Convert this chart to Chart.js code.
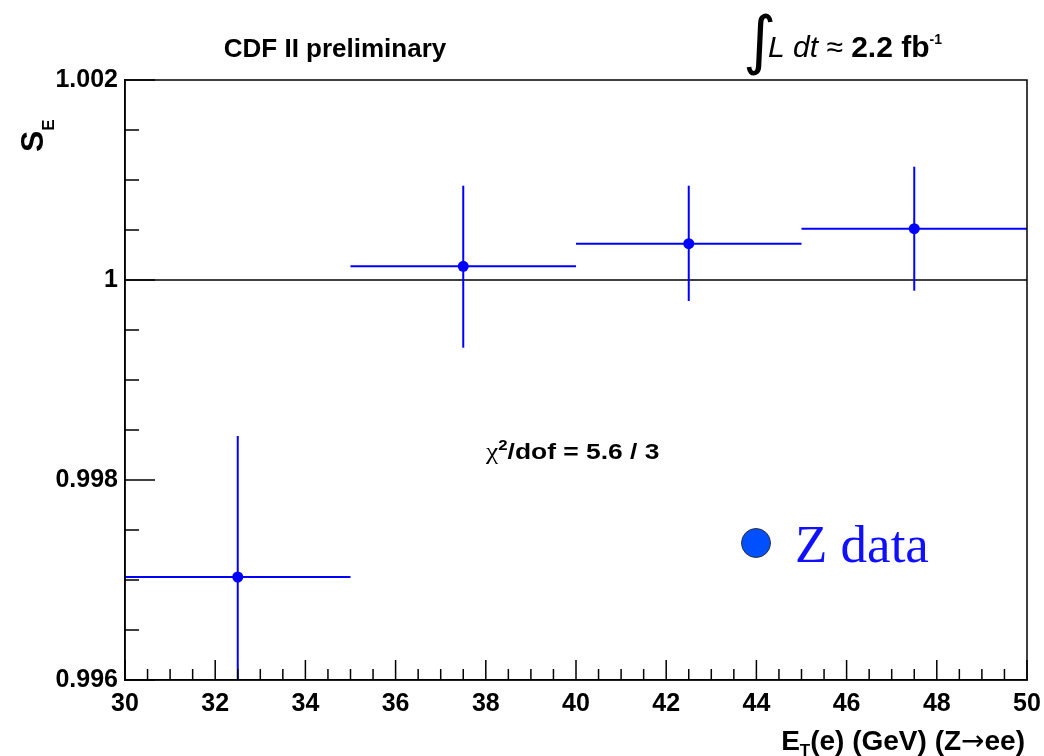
<!DOCTYPE html>
<html>
<head>
<meta charset="utf-8">
<script src="https://cdn.jsdelivr.net/npm/chart.js@4.4.1/dist/chart.umd.min.js"></script>
<style>
  html, body { margin: 0; padding: 0; background: #fff; }
  #wrap { width: 1044px; height: 756px; }
</style>
</head>
<body>
<div id="wrap"><canvas id="chart" width="1044" height="756"></canvas></div>
<script>
// ---------- Data ----------
const binLow = [30, 35, 40, 45];
const binHigh = [35, 40, 45, 50];
const binCenter = [32.5, 37.5, 42.5, 47.5];
const scaleE = [0.99703, 1.000137, 1.000363, 1.000513];
const errUp = [0.00141, 0.000806, 0.00058, 0.00062];
const errDown = [0.00141, 0.000814, 0.000573, 0.00062];

const xRange = [30, 50];
const yRange = [0.996, 1.002];
const refValue = 1;

const SANS = "'Liberation Sans', Arial, Helvetica, sans-serif";
const BLUE = "#0000ff";

// ---------- Datasets ----------
const datasets = [];

datasets.push({
  label: "Z data",
  data: binCenter.map((x, i) => ({ x, y: scaleE[i] })),
  showLine: false,
  pointRadius: 5.5,
  pointHoverRadius: 5.5,
  pointBackgroundColor: BLUE,
  pointBorderColor: BLUE,
  pointBorderWidth: 0
});

binCenter.forEach((x, i) => {
  // horizontal bar (bin width)
  datasets.push({
    data: [{ x: binLow[i], y: scaleE[i] }, { x: binHigh[i], y: scaleE[i] }],
    showLine: true,
    borderColor: BLUE,
    borderWidth: 2,
    pointRadius: 0
  });
  // vertical error bar
  datasets.push({
    data: [{ x, y: scaleE[i] - errDown[i] }, { x, y: scaleE[i] + errUp[i] }],
    showLine: true,
    borderColor: BLUE,
    borderWidth: 2,
    pointRadius: 0
  });
});

datasets.push({
  data: [{ x: xRange[0], y: refValue }, { x: xRange[1], y: refValue }],
  showLine: true,
  borderColor: "#000",
  borderWidth: 1.5,
  pointRadius: 0
});

// ---------- Helpers ----------
function isMultiple(v, step) {
  const r = v / step;
  return Math.abs(r - Math.round(r)) < 1e-6;
}

// draw a run of text pieces, each with its own font and vertical shift
function drawRun(ctx, pieces, x, y, align) {
  let total = 0;
  pieces.forEach((p) => {
    ctx.font = p.font;
    p.w = ctx.measureText(p.t).width;
    total += p.w + (p.gap || 0);
  });
  let cx = align === "right" ? x - total : align === "center" ? x - total / 2 : x;
  pieces.forEach((p) => {
    ctx.font = p.font;
    ctx.fillStyle = p.color || "#000";
    ctx.fillText(p.t, cx, y + (p.dy || 0));
    cx += p.w + (p.gap || 0);
  });
}

// ---------- Overlay plugin: frame, inward ticks, labels ----------
const overlay = {
  id: "overlay",
  afterDraw(chart) {
    const { ctx, chartArea: a } = chart;
    const xs = chart.scales.x;
    const ys = chart.scales.y;
    ctx.save();

    ctx.strokeStyle = "#000";
    ctx.lineWidth = 1.5;
    ctx.strokeRect(a.left, a.top, a.right - a.left, a.bottom - a.top);

    // inward ticks like ROOT
    ctx.beginPath();
    xs.ticks.forEach((t) => {
      const px = xs.getPixelForValue(t.value);
      const len = isMultiple(t.value, 2) ? 20 : 11;
      ctx.moveTo(px, a.bottom);
      ctx.lineTo(px, a.bottom - len);
    });
    ys.ticks.forEach((t) => {
      const py = ys.getPixelForValue(t.value);
      const len = isMultiple(t.value, 0.002) ? 30 : 14;
      ctx.moveTo(a.left, py);
      ctx.lineTo(a.left + len, py);
    });
    ctx.stroke();

    ctx.textBaseline = "alphabetic";
    ctx.textAlign = "left";

    // header
    drawRun(ctx, [{ t: "CDF II preliminary", font: "bold 26px " + SANS }], 335, 57, "center");

    ctx.font = "64px 'DejaVu Sans'";
    ctx.fillStyle = "#000";
    ctx.fillText("\u222B", 743, 62);
    drawRun(ctx, [
      { t: "L dt \u2248 ", font: "italic 30px " + SANS },
      { t: "2.2 fb", font: "bold 30px " + SANS },
      { t: "-1", font: "bold 14px " + SANS, dy: -13 }
    ], 768, 57, "left");

    // chi2 annotation (ROOT text is wider than Liberation Sans, stretch it)
    ctx.save();
    ctx.translate(486, 459);
    ctx.scale(1.2, 1);
    drawRun(ctx, [
      { t: "\u03C7", font: "23px 'Liberation Serif', serif" },
      { t: "2", font: "bold 14px " + SANS, dy: -9 },
      { t: "/dof = 5.6 / 3", font: "bold 22px " + SANS }
    ], 0, 0, "left");
    ctx.restore();

    // legend
    ctx.beginPath();
    ctx.arc(756, 543, 14.5, 0, Math.PI * 2);
    ctx.fillStyle = "#0050ff";
    ctx.fill();
    ctx.strokeStyle = "#333";
    ctx.lineWidth = 1;
    ctx.stroke();
    drawRun(ctx, [{ t: "Z data", font: "53px 'Liberation Serif', 'Times New Roman', serif", color: "#1010ff" }], 795, 562, "left");

    // x axis title
    drawRun(ctx, [
      { t: "E", font: "bold 28px " + SANS },
      { t: "T", font: "bold 17px " + SANS, dy: 6 },
      { t: "(e) (GeV) (Z", font: "bold 28px " + SANS },
      { t: "\u2192", font: "28px 'DejaVu Sans'" },
      { t: "ee)", font: "bold 28px " + SANS }
    ], 1025, 750, "right");

    // y axis title (rotated)
    ctx.translate(43, 152);
    ctx.rotate(-Math.PI / 2);
    drawRun(ctx, [
      { t: "S", font: "bold 32px " + SANS },
      { t: "E", font: "bold 17px " + SANS, dy: 11, gap: 0 }
    ], 0, 0, "left");

    ctx.restore();
  }
};

// ---------- Chart ----------
const tickFont = { family: SANS, size: 25, weight: "bold" };

new Chart(document.getElementById("chart").getContext("2d"), {
  type: "scatter",
  data: { datasets },
  options: {
    responsive: false,
    animation: false,
    events: [],
    layout: { padding: { left: 0, top: 80, right: 17, bottom: 0 } },
    plugins: { legend: { display: false }, tooltip: { enabled: false } },
    scales: {
      x: {
        type: "linear",
        min: xRange[0],
        max: xRange[1],
        afterFit: (s) => {
          s.height = 76;
          s.paddingLeft = 0;
          s.paddingRight = 17;
        },
        grid: { display: true, drawOnChartArea: false, drawTicks: false },
        border: { display: true, color: "#000", width: 1.5 },
        ticks: {
          stepSize: 0.5,
          autoSkip: false,
          maxRotation: 0,
          padding: 9,
          color: "#000",
          font: tickFont,
          callback: (v) => (isMultiple(v, 2) ? String(Math.round(v)) : "")
        }
      },
      y: {
        type: "linear",
        min: yRange[0],
        max: yRange[1],
        afterFit: (s) => {
          s.width = 125;
          s.paddingTop = 0;
          s.paddingBottom = 0;
        },
        grid: { display: true, drawOnChartArea: false, drawTicks: false },
        border: { display: true, color: "#000", width: 1.5 },
        ticks: {
          stepSize: 0.0005,
          autoSkip: false,
          padding: 7,
          color: "#000",
          font: tickFont,
          callback: (v) => (isMultiple(v, 0.002) ? String(parseFloat(v.toFixed(4))) : "")
        }
      }
    }
  },
  plugins: [overlay]
});
</script>
</body>
</html>
